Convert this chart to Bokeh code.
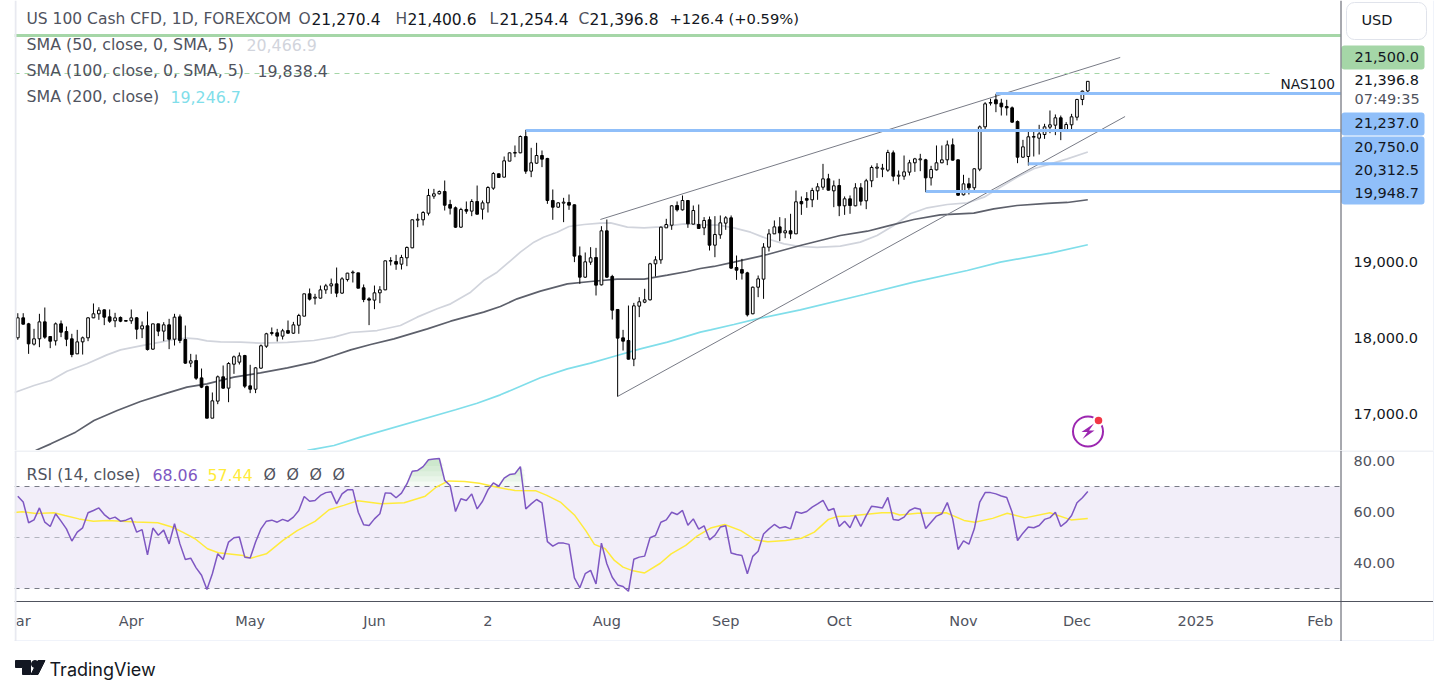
from bokeh.plotting import figure
from bokeh.layouts import column
from bokeh.models import Range1d, LinearAxis, FixedTicker, NumeralTickFormatter, Label, Span
from bokeh.core.properties import value
from bokeh.embed import file_html
from bokeh.resources import INLINE

FONT = "DejaVu Sans"

opens = [18022,18285,18206,17939,18009,18232,18039,17982,18206,18105,
18009,17811,17969,18022,18285,18338,18390,18298,18246,18290,
18250,18246,18285,18140,18180,17873,18206,18110,18193,18004,
18298,18000,17689,17723,17495,17382,16965,17189,17509,17360,
17675,17702,17789,17390,17346,17623,17912,18079,18088,18044,
18118,18083,18188,18307,18601,18544,18544,18653,18706,18732,
18610,18789,18877,18877,18680,18535,18518,18614,18653,19031,
19026,18991,19075,19206,19570,19575,19662,19886,19917,19947,
19776,19733,19478,19711,19689,19816,19715,19798,19991,20180,
20136,20347,20452,20456,20671,20215,20320,20421,20382,19829,
19741,19794,19803,19772,19101,18820,19018,19079,18719,19430,
18829,18395,18022,17987,17741,18439,18491,18522,18996,19048,
19469,19504,19763,19706,19829,19518,19513,19469,19575,19241,
19377,19531,19601,18947,18921,18877,18338,18688,18794,19215,
19390,19482,19403,19430,19390,19816,19855,19838,19956,20004,
20114,19956,20026,19759,19851,19759,19996,19825,20088,20254,
20241,20228,20456,20149,20149,20202,20325,20364,20364,20127,
20232,20325,20364,20561,20364,19904,20048,19996,20241,20798,
21110,21154,21110,21066,21048,20868,20399,20408,20662,20649,
20697,20794,20820,20917,20746,20825,20925,21158,21270.4]
highs = [18346,18346,18219,18140,18338,18421,18039,18224,18250,18171,
18075,18127,18039,18294,18474,18425,18395,18395,18351,18303,
18250,18395,18294,18237,18368,18206,18206,18228,18272,18338,
18329,18184,17811,17802,17618,17395,17303,17526,17658,17702,
17789,17829,17798,17667,17636,17934,18088,18158,18140,18140,
18250,18232,18338,18601,18671,18601,18710,18732,18802,18947,
18820,18877,18908,18877,18724,18557,18710,18702,19039,19083,
19114,19114,19224,19579,19654,19689,19982,19982,19961,20092,
19838,19750,19733,19816,19846,20026,19829,20017,20202,20184,
20408,20461,20553,20684,20759,20522,20588,20487,20390,19974,
19807,19864,19908,19776,19224,19145,19215,19206,19491,19579,
18851,18395,18127,18447,18482,18557,18667,19009,19096,19487,
19588,19767,19816,19895,19829,19763,19776,19610,19618,19623,
19632,19623,19632,19105,19061,18891,18697,18842,19268,19452,
19566,19610,19596,19654,19960,19882,19939,19996,20057,20311,
20180,20092,20114,19882,19895,20057,20057,20114,20290,20320,
20311,20496,20487,20224,20421,20364,20390,20443,20377,20285,
20553,20553,20618,20645,20368,20167,20127,20254,20816,21123,
21167,21233,21167,21154,21066,20882,20627,20750,20750,20825,
20838,21013,20961,20947,20860,20969,21167,21276,21400.6]
lows = [17996,18197,17811,17921,17899,18009,17886,17921,18031,17912,
17767,17811,17802,17978,18281,18259,18189,18219,18162,18228,
18241,18206,18004,18018,17855,17864,18044,17978,17873,17921,
17952,17680,17636,17469,17360,16965,16965,17149,17351,17175,
17548,17671,17360,17294,17294,17614,17890,18053,17974,18000,
18075,18075,18075,18307,18513,18460,18539,18601,18601,18557,
18601,18763,18750,18675,18491,18189,18399,18478,18649,18974,
18917,18921,18965,19202,19478,19500,19632,19851,19908,19697,
19645,19469,19469,19654,19623,19645,19579,19671,19969,20132,
20136,20347,20399,20452,20180,20136,20311,20268,19785,19575,
19732,19544,19706,19018,18732,18811,18982,18579,18711,18811,
18263,17250,17855,17737,17649,18294,18478,18513,18829,18996,
19478,19443,19684,19697,19469,19513,19469,19373,19171,19083,
19325,19443,18930,18785,18789,18303,18333,18557,18535,19158,
19390,19294,19333,19325,19390,19640,19733,19741,19838,19969,
19961,19741,19623,19640,19654,19754,19763,19715,20004,20127,
20136,20206,20083,20040,20101,20158,20206,20215,19939,20026,
20224,20320,20294,20355,19890,19895,19908,19939,20215,20741,
21079,20991,20947,20947,20851,20320,20390,20289,20408,20434,
20640,20715,20689,20623,20741,20750,20882,21083,21254.4]
closes = [18285,18202,17943,18009,18232,18031,17978,18206,18096,18004,
17802,17969,18022,18285,18338,18386,18294,18241,18285,18241,
18241,18285,18136,18180,17868,18206,18110,18193,18004,18294,
17987,17689,17719,17491,17373,16965,17193,17509,17360,17684,
17772,17785,17386,17346,17627,17917,18075,18092,18044,18114,
18083,18193,18316,18601,18531,18557,18653,18706,18732,18610,
18798,18873,18886,18675,18526,18518,18614,18653,19035,19039,
18991,19079,19211,19575,19583,19671,19895,19917,19947,19767,
19728,19478,19711,19689,19816,19649,19798,20000,20184,20132,
20351,20456,20461,20671,20215,20325,20421,20373,19829,19741,
19798,19807,19768,19097,18820,19022,19075,18715,19430,18820,
18386,18018,17978,17741,18443,18496,18522,18996,19048,19478,
19513,19759,19706,19829,19522,19697,19461,19566,19241,19382,
19535,19601,18939,18912,18873,18325,18688,18798,19215,19390,
19482,19403,19430,19390,19812,19785,19833,19961,20009,20114,
19965,20022,19759,19851,19763,19996,19820,20088,20263,20268,
20254,20461,20149,20162,20206,20325,20377,20377,20127,20237,
20325,20364,20561,20360,19899,20048,19996,20246,20798,21101,
21118,21101,21061,21048,20860,20399,20535,20667,20671,20706,
20798,20825,20917,20750,20829,20930,21158,21268,21396.8]

sma50_i = [-0.6,3.0,6.1,9.1,12.8,16.5,19.0,22.7,26.4,28.9,31.3,33.2,35.0,37.5,41.2,44.9,49.9,54.8,58.5,61.6,66.5,70.8,73.9,77.6,80.1,83.8,86.2,88.7,91.2,93.0,95.5,97.3,99.8,102.0,104.8,107.8,109.7,112.8,115.9,118.9,123.3,128.2,129.4,132.5,135.6,138.7,141.8,144.8,147.9,152.2,155.9,159.0,162.1,165.2,168.3,172.0,175.7,178.8,181.8,184.9,188.0,191.1,194.2,198.0]
sma50 = [17302,17395,17460,17583,17680,17798,17864,17917,17965,18000,18018,18009,17982,17969,17965,17952,17961,17987,18031,18092,18118,18184,18294,18404,18469,18623,18776,18886,19039,19149,19281,19346,19412,19487,19513,19531,19535,19478,19469,19482,19522,19504,19509,19469,19412,19325,19259,19224,19211,19228,19281,19368,19500,19654,19733,19776,19798,19873,20004,20136,20246,20311,20377,20466.9]
sma100_i = [3.3,6.1,10.7,14.1,18.4,22.7,27.6,31.3,35.0,40.0,44.9,49.9,54.8,58.5,61.6,65.3,69.6,75.8,80.1,86.2,89.3,92.4,96.7,101.7,106.0,110.9,115.9,120.2,123.9,126.3,128.8,132.5,138.7,144.8,148.5,152.2,157.2,160.9,165.8,170.7,176.9,180.6,184.9,190.5,194.2,198.0]
sma100 = [16540,16627,16781,16934,17066,17184,17294,17373,17417,17504,17561,17627,17702,17789,17864,17934,18009,18140,18241,18360,18434,18535,18636,18732,18763,18794,18794,18846,18895,18934,18961,19018,19118,19237,19303,19368,19425,19491,19579,19640,19662,19719,19763,19790,19803,19838.4]
sma200_i = [53.6,58.5,63.4,81.0,85.0,89.3,96.7,101.7,106.0,110.9,115.2,120.2,126.3,128.2,132.5,136.8,144.8,156.6,165.8,175.7,181.8,191.1,198.0]
sma200 = [16540,16605,16715,17075,17162,17272,17496,17614,17689,17789,17877,17965,18097,18127,18197,18272,18390,18592,18754,18908,19018,19136,19246.7]

rsi = [66.2,63.9,55.8,56.9,61.6,56.0,54.3,59.3,56.4,53.4,48.6,52.1,53.8,59.7,60.6,61.6,59.0,57.3,58.0,56.4,
56.8,57.7,52.1,53.1,43.2,53.7,50.9,52.9,47.5,55.4,47.5,41.4,41.9,38.1,35.2,29.6,35.8,43.6,41.4,48.2,
49.9,50.2,42.3,42.0,48.2,53.4,56.4,56.8,56.0,57.1,56.4,58.0,60.6,66.1,64.2,64.5,66.5,67.6,67.9,63.2,
67.1,68.7,68.7,59.9,55.0,54.7,57.3,59.3,67.5,67.4,65.6,67.4,71.0,76.0,76.3,77.8,80.5,80.8,81.0,72.4,
70.4,60.2,65.2,64.5,67.1,61.2,64.2,68.7,71.4,70.1,73.3,74.7,75.0,77.8,61.2,63.2,64.9,63.6,48.4,46.6,47.8,
47.8,47.3,34.2,30.3,35.8,37.1,31.8,47.8,39.7,34.4,31.4,30.8,28.9,41.5,42.3,42.7,49.9,50.8,56.0,56.9,
59.9,59.0,60.6,54.8,57.3,53.3,54.6,49.1,50.8,54.1,54.6,43.9,43.3,42.9,35.8,42.6,44.6,51.4,53.4,55.1,
53.7,54.2,53.4,60.1,59.5,60.2,61.9,63.2,64.6,60.6,61.4,54.3,56.4,53.8,58.6,54.3,58.6,62.3,62.0,61.6,
65.7,57.1,56.8,58.0,60.6,61.6,61.1,53.5,56.0,58.4,59.3,63.7,57.3,45.3,48.7,47.4,53.4,63.9,67.6,67.6,
67.1,66.3,65.7,59.9,48.8,51.7,54.1,53.8,54.7,57.1,57.8,59.9,54.3,56.0,58.6,63.6,65.6,68.06]
rsi_ma_i = [-0.6,0.8,3.4,6.7,8.7,11.3,14.0,16.6,19.3,21.9,25.9,28.5,30.5,32.8,35.1,37.1,41.7,43.1,46.0,49.0,51.7,55.0,57.6,60.3,62.9,67.2,71.5,75.4,77.4,79.7,82.7,85.4,88.7,92.0,95.9,97.9,100.4,103.1,105.1,106.7,108.7,110.4,112.0,113.6,116.0,118.9,120.9,123.6,125.6,128.2,130.8,133.8,136.5,138.8,142.1,145.0,147.4,150.0,151.7,154.0,156.6,159.9,161.9,163.2,166.5,171.8,175.1,177.1,180.4,183.1,186.4,191.0,194.9,198.0]
rsi_ma = [59.8,60.1,59.4,59.7,58.6,57.3,56.4,56.7,56.4,56.1,55.8,54.1,52.1,49.5,45.6,44.0,42.9,41.9,43.6,48.8,52.7,56.3,60.9,62.6,64.4,63.2,63.6,66.2,69.7,72.2,72.0,71.3,69.7,68.4,68.3,66.5,63.9,58.6,52.7,47.3,45.6,41.0,38.4,37.1,36.1,39.9,43.6,46.9,50.4,53.7,55.1,52.7,49.1,48.3,48.8,49.7,52.1,57.1,58.2,58.4,59.0,59.7,59.7,58.8,59.5,59.7,56.7,56.0,57.5,59.5,57.7,59.7,56.9,57.44]

level_prices = [21237.0, 20750.0, 20312.5, 19948.7]
level_starts = [181, 94, 187, 168]
upper_channel_i = [107.8, 204.0]
upper_channel = [19579, 21711]
lower_channel_i = [110.97, 204.9]
lower_channel = [17250, 20934]
tick_bars = [1, 21, 43, 66, 87, 109, 131, 152, 175, 196, 218, 241]
tick_names = ["ar", "Apr", "May", "Jun", "2", "Aug", "Sep", "Oct", "Nov", "Dec", "2025", "Feb"]
price_ticks = [17000, 18000, 19000]
rsi_ticks = [40, 60, 80]

def X(px): return (px - 17.3) / 5.404
def Y(py): return 19000 + (263 - py) / 0.076
def Y2(py): return 70 - (py - 486) / 2.55

FW = 1420   # frame runs from x=14 to x=1434; the price scale sits inside it
FS = 14.5
LEG = 15.8
HEAD = 15.5
AXIS = "#50535e"
BORDER = "#f0f3fa"
x_range = Range1d(X(14), X(1434))

p = figure(frame_width=FW, frame_height=450, x_range=x_range, y_range=Range1d(Y(450), Y(0)),
           output_backend="svg", toolbar_location=None, x_axis_type=None, y_axis_type=None,
           min_border_left=14, min_border_right=0, min_border_top=0, min_border_bottom=0)
p.outline_line_color = None
p.grid.visible = False
p.extra_y_ranges = {"scale": Range1d(Y(452), Y(2))}
ax = LinearAxis(ticker=FixedTicker(ticks=price_ticks), formatter=NumeralTickFormatter(format="0,0.0"),
                y_range_name="scale")
ax.major_tick_line_color = None
ax.minor_tick_line_color = None
ax.axis_line_color = None
ax.major_label_text_color = "#131722"
ax.major_label_text_font = FONT
ax.major_label_text_font_size = f"{FS}px"
ax.major_label_standoff = -87
p.add_layout(ax, "right")

idx = list(range(len(opens)))
p.line(sma50_i, sma50, color="#d1d4dc", line_width=1.7)
p.line(sma100_i, sma100, color="#5d606b", line_width=1.7)
p.line(sma200_i, sma200, color="#80deea", line_width=1.7)
p.line(upper_channel_i, upper_channel, color="#787b86", line_width=1)
p.line(lower_channel_i, lower_channel, color="#787b86", line_width=1)

p.segment(idx, lows, idx, highs, color="#000000", line_width=1)
up = [i for i in idx if closes[i] >= opens[i]]
dn = [i for i in idx if closes[i] < opens[i]]
p.vbar(x=up, bottom=[opens[i] for i in up], top=[closes[i] for i in up], width=0.5,
       fill_color="#ffffff", line_color="#000000", line_width=1)
p.vbar(x=dn, bottom=[closes[i] for i in dn], top=[opens[i] for i in dn], width=0.5,
       fill_color="#000000", line_color="#000000", line_width=1)

p.segment(level_starts, level_prices, [X(1340)] * 4, level_prices, color="#90bff9", line_width=3)
p.segment([X(14)], [21500], [X(1273)], [21500], color="#a5d6a7", line_width=1, line_dash="5 5")
p.segment([X(14)], [22000], [X(1340)], [22000], color="#a5d6a7", line_width=3)
for loc, col, w in [(X(15), "#e8e9f0", 2), (X(1340.5), AXIS, 1), (X(1433.5), BORDER, 2)]:
    p.add_layout(Span(location=loc, dimension="height", line_color=col, line_width=w))

def lab(fig, y_off, px, py, text, color="#131722", size=FS, align="left", **kw):
    l = Label(x=px, y=py - y_off, x_units="canvas", y_units="canvas", text=text, text_color=color, text_font=FONT,
              text_font_size=f"{size}px", text_align=align, text_baseline="middle", **kw)
    fig.add_layout(l)

GR = "#50535e"
lab(p, 0, 26, 18, "US 100 Cash CFD, 1D, FOREXCOM", GR, HEAD)
for px0, letter, px1, val in [(298, "O", 311, "21,270.4"), (395, "H", 407, "21,400.6"),
                              (489, "L", 499, "21,254.4"), (578, "C", 589, "21,396.8")]:
    lab(p, 0, px0, 18, letter, GR, HEAD)
    lab(p, 0, px1, 18, val, size=HEAD)
lab(p, 0, 669, 18, "+126.4 (+0.59%)", size=14.7)
lab(p, 0, 26, 44, "SMA (50, close, 0, SMA, 5)", GR, LEG)
lab(p, 0, 246, 44, "20,466.9", "#d1d4dc", LEG)
lab(p, 0, 26, 70, "SMA (100, close, 0, SMA, 5)", GR, LEG)
lab(p, 0, 257, 70, "19,838.4", GR, LEG)
lab(p, 0, 26, 96, "SMA (200, close)", GR, LEG)
lab(p, 0, 170, 96, "19,246.7", "#80deea", LEG)
lab(p, 0, 1280, 83, "NAS100", size=13.7, background_fill_color="#ffffff")

# price-scale tags
p.quad(left=[X(1346)], right=[X(1426)], top=[Y(2)], bottom=[Y(39)], fill_color="#ffffff",
       line_color="#e0e3eb", line_width=1, border_radius=8)
p.quad(left=[X(1341)], right=[X(1424)], top=[Y(45)], bottom=[Y(69)], fill_color="#a5d6a7",
       line_color=None, border_radius=3)
p.quad(left=[X(1341), X(1341)], right=[X(1424), X(1424)], top=[Y(112), Y(136)], bottom=[Y(135), Y(204)],
       fill_color="#90bff9", line_color=None, border_radius=3)
lab(p, 0, 1361, 19.5, "USD")
lab(p, 0, 1354, 56.5, "21,500.0")
lab(p, 0, 1354, 79.5, "21,396.8")
lab(p, 0, 1354, 98.5, "07:49:35", "#50535e")
for py, t in [(122.5, "21,237.0"), (146, "20,750.0"), (169, "20,312.5"), (192, "19,948.7")]:
    lab(p, 0, 1354, py, t)

# alert icon
p.scatter([X(1087.5)], [Y(431)], marker="circle", size=30, fill_color=None, line_color="#9c27b0", line_width=2)
p.scatter([X(1098)], [Y(420)], marker="circle", size=12, fill_color="#ffffff", line_color=None)
p.scatter([X(1098)], [Y(420)], marker="circle", size=7.5, fill_color="#f23645", line_color=None)
p.patch([X(a) for a in (1093.5, 1081, 1087, 1082, 1094, 1088.5)],
        [Y(b) for b in (423, 431.5, 431.5, 438.5, 430, 430)], color="#9c27b0", line_width=0)

# RSI pane: frame runs down to the bottom border, the time labels sit inside it
q = figure(frame_width=FW, frame_height=191, x_range=x_range, y_range=Range1d(Y2(641), Y2(450)),
           output_backend="svg", toolbar_location=None, y_axis_type=None,
           min_border_left=14, min_border_right=0, min_border_top=0, min_border_bottom=0)
q.outline_line_color = None
q.grid.visible = False
q.xaxis.ticker = FixedTicker(ticks=tick_bars)
q.xaxis.major_label_overrides = dict(zip(tick_bars, tick_names))
q.xaxis.major_tick_line_color = None
q.xaxis.minor_tick_line_color = None
q.xaxis.axis_line_color = BORDER
q.xaxis.axis_line_width = 3
q.xaxis.major_label_text_color = AXIS
q.xaxis.major_label_text_font = FONT
q.xaxis.major_label_text_font_size = f"{FS}px"
q.xaxis.major_label_standoff = -35
ax2 = LinearAxis(ticker=FixedTicker(ticks=rsi_ticks), formatter=NumeralTickFormatter(format="0.00"))
ax2.major_tick_line_color = None
ax2.minor_tick_line_color = None
ax2.axis_line_color = None
ax2.major_label_text_color = AXIS
ax2.major_label_text_font = FONT
ax2.major_label_text_font_size = f"{FS}px"
ax2.major_label_standoff = -87
q.add_layout(ax2, "right")

q.varea(x=[X(14), X(1340)], y1=[30, 30], y2=[70, 70], fill_color="#7e57c2", fill_alpha=0.1)
for lvl in (70, 72, 74, 76, 78):
    q.varea(x=list(range(len(rsi))), y1=[lvl] * len(rsi), y2=[max(v, lvl) for v in rsi],
            fill_color="#66bb6a", fill_alpha=0.07)
q.segment([X(14)] * 3, [70, 50, 30], [X(1340)] * 3, [70, 50, 30],
          line_color=["#787b86", "#b2b5be", "#787b86"], line_width=1, line_dash="5 5")
q.line(rsi_ma_i, rsi_ma, color="#ffeb3b", line_width=1.5)
q.line(list(range(len(rsi))), rsi, color="#7e57c2", line_width=1.5)
q.segment([X(14)], [Y2(450.5)], [X(1434)], [Y2(450.5)], color="#e0e3eb", line_width=1)
q.segment([X(14)], [Y2(601)], [X(1434)], [Y2(601)], color=AXIS, line_width=1)
for loc, col, w in [(X(15), "#e8e9f0", 2), (X(1340.5), AXIS, 1), (X(1433.5), BORDER, 2)]:
    q.add_layout(Span(location=loc, dimension="height", line_color=col, line_width=w))
lab(q, 450, 26, 474, "RSI (14, close)", GR, LEG)
lab(q, 450, 152, 474, "68.06", "#7e57c2", LEG)
lab(q, 450, 207, 474, "57.44", "#ffeb3b", LEG)
for px0 in (263, 286, 309, 332):
    lab(q, 450, px0, 474, "\u00d8", GR, LEG)

# footer with the TradingView mark
f = figure(frame_width=1440, frame_height=46, x_range=Range1d(13, 1453), y_range=Range1d(687, 641),
           output_backend="svg", toolbar_location=None, x_axis_type=None, y_axis_type=None,
           min_border_left=0, min_border_right=0, min_border_top=0, min_border_bottom=0)
f.outline_line_color = None
f.grid.visible = False
f.patch([14, 29, 29, 21, 21, 14], [660, 660, 674, 674, 667, 667], color="#131722")
f.scatter([33.5], [663.5], marker="circle", size=7, color="#131722")
f.patch([43.5, 36.5, 29.5, 36.5], [660, 674, 674, 660], color="#131722")
f.text([48], [669], text=["TradingView"], text_color="#131722", text_font=value("Inter"),
       text_font_size="18px", text_baseline="middle", text_align="left")

page = column(p, q, f, spacing=0)
open("out.html", "w").write(file_html(page, INLINE))
